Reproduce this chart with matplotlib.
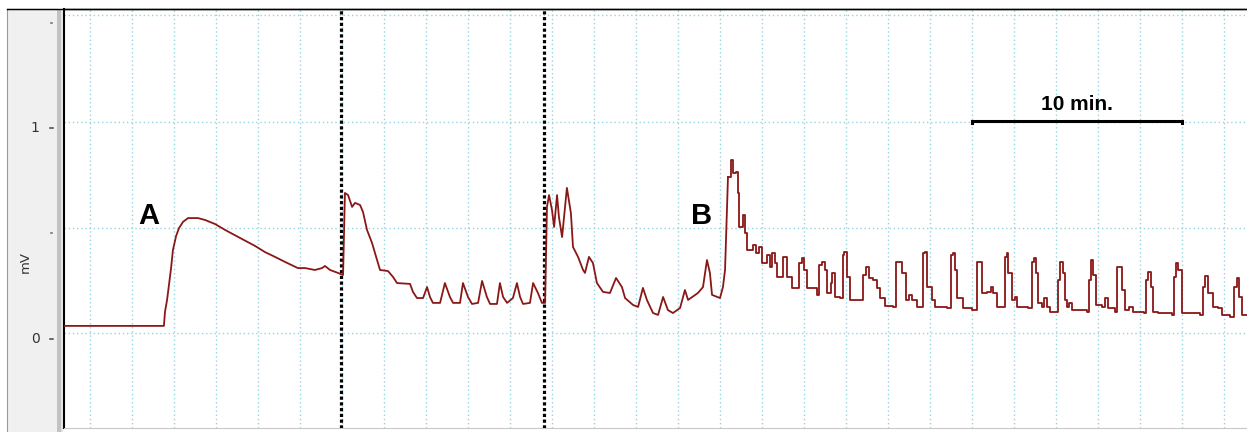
import matplotlib
matplotlib.use("Agg")
from matplotlib import pyplot as plt
from matplotlib.lines import Line2D
from matplotlib.patches import Rectangle

# Field potential trace: time in minutes, potential in mV
time_min = [
    -1.24, 3.52, 3.57, 3.67, 3.76, 3.86, 3.95, 4.10, 4.24, 4.43, 4.67, 5.14, 5.48, 5.95,
    6.43, 7.14, 7.86, 8.33, 8.81, 9.29, 9.90, 10.24, 10.71, 11.05, 11.19, 11.43, 11.81, 12.05,
    # second application
    12.14, 12.29, 12.48, 12.62, 12.86, 13.00, 13.19, 13.43, 13.67, 13.81, 14.19, 14.43, 14.62,
    15.24, 15.38, 15.57, 15.86, 16.05, 16.19, 16.33, 16.67, 16.90, 17.14, 17.29, 17.62, 17.76,
    18.00, 18.19, 18.48, 18.67, 18.90, 19.05, 19.38, 19.52, 19.67, 19.86, 20.14, 20.33, 20.48,
    20.62, 20.95, 21.10, 21.33, 21.52, 21.67,
    # third application
    21.76, 21.86, 22.00, 22.10, 22.24, 22.33, 22.48, 22.71, 22.90, 23.00, 23.24, 23.48, 23.57,
    23.76, 23.95, 24.14, 24.43, 24.76, 25.05, 25.33, 25.48, 25.86, 26.10, 26.33, 26.52, 26.81,
    27.05, 27.29, 27.52, 27.76, 28.10, 28.33, 28.48, 28.95, 29.19, 29.38, 29.52, 29.62, 30.00,
    30.14, 30.24, 30.38, 30.52, 30.62, 30.76, 30.86, 30.90, 31.10, 31.19, 31.29, 31.57, 31.71,
    31.86, 32.00, 32.24, 32.38, 32.48, 32.62, 32.71, 33.00, 33.19, 33.43, 33.67, 33.76, 33.90,
    34.00, 34.14, 34.62, 34.71, 34.86, 35.00, 35.10, 35.29, 35.33, 35.48, 35.71, 35.86, 35.90,
    36.05, 36.19, 36.67, 36.81, 36.95, 37.10, 37.29, 37.48, 37.62, 37.86, 38.24, 38.38, 38.48,
    38.67, 38.86, 39.00, 39.14, 39.38, 39.62, 39.67, 39.76, 39.86, 40.10, 40.24, 40.81, 41.00,
    41.10, 41.19, 41.29, 41.43, 41.57, 42.00, 42.24, 42.33, 42.48, 42.71, 42.90, 43.00, 43.19,
    43.48, 43.57, 43.67, 43.71, 43.90, 44.05, 44.14, 44.67, 44.86, 44.95, 45.05, 45.14, 45.33,
    45.43, 45.57, 45.71, 46.05, 46.10, 46.19, 46.33, 46.43, 46.52, 46.62, 46.76, 47.48, 47.57,
    47.67, 47.76, 47.90, 48.19, 48.33, 48.48, 48.81, 48.90, 49.05, 49.14, 49.29, 49.48, 49.67,
    50.19, 50.29, 50.38, 50.52, 50.62, 50.86, 51.52, 51.62, 51.71, 51.81, 52.00, 52.86, 53.00,
    53.10, 53.24, 53.48, 53.71, 53.90, 54.29, 54.48, 54.62, 54.71, 54.86, 55.10,
]
signal_mv = [
    0.062, 0.062, 0.128, 0.185, 0.256, 0.336, 0.422, 0.488, 0.526, 0.555, 0.573, 0.573, 0.564, 0.545,
    0.517, 0.479, 0.441, 0.412, 0.389, 0.365, 0.336, 0.336, 0.327, 0.336, 0.346, 0.327, 0.313, 0.303,
    0.692, 0.682, 0.626, 0.645, 0.635, 0.602, 0.517, 0.455, 0.374, 0.327, 0.322, 0.294, 0.265,
    0.261, 0.223, 0.194, 0.194, 0.246, 0.199, 0.171, 0.171, 0.265, 0.199, 0.171, 0.171, 0.265,
    0.199, 0.166, 0.171, 0.275, 0.199, 0.166, 0.166, 0.265, 0.199, 0.171, 0.194, 0.265, 0.199,
    0.166, 0.171, 0.265, 0.218, 0.171, 0.171,
    0.626, 0.682, 0.611, 0.531, 0.682, 0.578, 0.483, 0.716, 0.597, 0.436, 0.389, 0.327, 0.313,
    0.389, 0.360, 0.265, 0.223, 0.218, 0.289, 0.246, 0.194, 0.161, 0.152, 0.242, 0.185, 0.123,
    0.114, 0.199, 0.137, 0.123, 0.147, 0.232, 0.185, 0.218, 0.246, 0.374, 0.313, 0.209, 0.194,
    0.246, 0.327, 0.768, 0.848, 0.787, 0.791, 0.692, 0.531, 0.588, 0.502, 0.422, 0.445, 0.408,
    0.436, 0.360, 0.398, 0.341, 0.408, 0.360, 0.294, 0.389, 0.294, 0.242, 0.242, 0.360, 0.384,
    0.327, 0.242, 0.209, 0.351, 0.365, 0.327, 0.218, 0.265, 0.313, 0.199, 0.194, 0.398, 0.412,
    0.294, 0.185, 0.185, 0.303, 0.341, 0.289, 0.280, 0.242, 0.194, 0.156, 0.152, 0.365, 0.365,
    0.313, 0.185, 0.209, 0.185, 0.152, 0.152, 0.408, 0.412, 0.246, 0.185, 0.152, 0.147, 0.398,
    0.408, 0.327, 0.194, 0.194, 0.147, 0.137, 0.365, 0.365, 0.218, 0.223, 0.246, 0.218, 0.152,
    0.152, 0.389, 0.408, 0.313, 0.185, 0.199, 0.152, 0.147, 0.365, 0.384, 0.313, 0.171, 0.152,
    0.194, 0.152, 0.128, 0.128, 0.280, 0.365, 0.313, 0.185, 0.152, 0.171, 0.137, 0.128, 0.280,
    0.374, 0.303, 0.161, 0.152, 0.194, 0.147, 0.128, 0.341, 0.341, 0.232, 0.137, 0.152, 0.128,
    0.123, 0.280, 0.318, 0.246, 0.128, 0.123, 0.114, 0.294, 0.360, 0.327, 0.123, 0.114, 0.246,
    0.299, 0.218, 0.152, 0.147, 0.114, 0.104, 0.246, 0.289, 0.199, 0.114, 0.114,
]

# from here on the bursts are square pulses
burst_onset = 30.38

# solution changes
switch_times = [11.95, 21.62]

event_labels = ["A", "B"]
event_times = [2.81, 29.14]
event_levels = [0.583, 0.583]

scale_start = 42
scale_length = 10
scale_label = "10 min."

y_ticks = [1.5, 1.0, 0.5, 0.0, -0.5]
y_tick_labels = ["", "1", "", "0", ""]
grid_times = list(range(0, 56, 2))
grid_levels = [1.536, 1.028, 0.528, 0.028, -0.472]

W, H = 1247, 432
TRACE = "#8a1717"
GRID = "#93d6e2"


def draw() -> None:
    fig = plt.figure(figsize=(W / 100, H / 100), dpi=100)
    fig.patch.set_facecolor("white")

    # gray scale panel on the left
    panel = fig.add_axes([7 / W, 0, 50 / W, 1 - 9 / H])
    panel.set_facecolor("#f0f0f0")
    panel.set_xlim(0, 50)
    panel.set_ylim(-0.441, 1.564)
    panel.set_xticks([])
    panel.set_yticks([])
    for side in ("right", "bottom"):
        panel.spines[side].set_visible(False)
    panel.spines["left"].set_color("#9a9a9a")
    panel.spines["top"].set_color("black")
    for yv, lab in zip(y_ticks, y_tick_labels):
        if lab:
            panel.plot([42.5, 45.5], [yv, yv], color="#444444", lw=1.1)
            panel.text(28, yv, lab, ha="center", va="center", fontsize=10,
                       color="#333333", family="DejaVu Sans")
        else:
            panel.plot([43.5, 44.5], [yv, yv], color="#666666", lw=1.1)
    panel.text(18, 0.365, "mV", rotation=90, ha="center", va="center",
               fontsize=9.5, color="#333333", family="DejaVu Sans")

    # double separator between panel and plot
    fig.add_artist(Rectangle((57 / W, 0), 4 / W, 1 - 9 / H, transform=fig.transFigure,
                             facecolor="#c2c2c2", edgecolor="none"))
    fig.add_artist(Rectangle((61 / W, 0), 2 / W, 1 - 9 / H, transform=fig.transFigure,
                             facecolor="#e4e4e4", edgecolor="none"))

    ax = fig.add_axes([64 / W, 1 - 428 / H, (W - 64) / W, (428 - 9) / H])
    ax.set_xlim(-1.238, 55.095)
    ax.set_ylim(-0.422, 1.564)
    ax.set_xticks([])
    ax.set_yticks([])
    ax.spines["right"].set_visible(False)
    ax.spines["left"].set_color("black")
    ax.spines["left"].set_linewidth(1.5)
    ax.spines["top"].set_color("black")
    ax.spines["top"].set_linewidth(1.0)
    ax.spines["bottom"].set_color("#c8c8c8")

    for t in grid_times:
        ax.axvline(t, color=GRID, lw=1.0, ls=(0, (1, 2)), zorder=1)
    for v in grid_levels:
        ax.axhline(v, color=GRID, lw=1.0, ls=(0, (1, 2)), zorder=1)

    for t in switch_times:
        ax.axvline(t, color="black", lw=2.3, ls=(0, (1.0, 0.8)), zorder=3)

    # slow responses drawn as a line, the later burst train as held values
    k = time_min.index(burst_onset)
    ax.plot(time_min[:k + 1], signal_mv[:k + 1], color=TRACE, lw=1.3, zorder=4)
    ax.plot(time_min[k:], signal_mv[k:], color=TRACE, lw=1.3, drawstyle="steps-post", zorder=4)

    for lab, t, v in zip(event_labels, event_times, event_levels):
        ax.text(t, v, lab, ha="center", va="center", fontsize=21, fontweight="bold",
                family="Liberation Sans", zorder=5)

    # time scale bar
    bar_y = 1.033
    end = scale_start + scale_length
    ax.plot([scale_start, scale_start, end, end], [bar_y - 0.01, bar_y, bar_y, bar_y - 0.01],
            color="black", lw=2.2, solid_joinstyle="miter", zorder=5)
    ax.text(scale_start + scale_length / 2, 1.109, scale_label, ha="center", va="center",
            fontsize=15, fontweight="bold", family="Liberation Sans", zorder=5)

    fig.add_artist(Line2D([7 / W, 1], [1 - 9 / H, 1 - 9 / H], transform=fig.transFigure,
                          color="black", lw=1.0))

    fig.savefig("out.png", dpi=100)


if __name__ == "__main__":
    draw()
